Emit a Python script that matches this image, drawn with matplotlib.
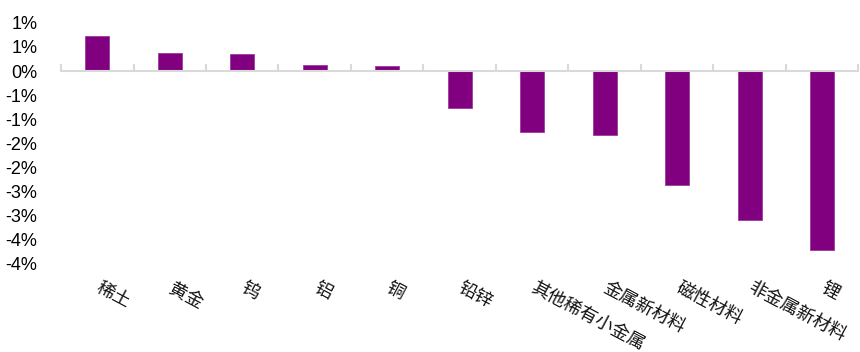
import numpy as np
import matplotlib.pyplot as plt
import matplotlib.transforms as mtransforms

plt.rcParams['font.family'] = ['Noto Sans CJK SC', 'DejaVu Sans']

# data (percent)
categories = ['稀土', '黄金', '钨', '铝', '铜', '铅锌', '其他稀有小金属',
              '金属新材料', '磁性材料', '非金属新材料', '锂']
values = [0.72, 0.37, 0.36, 0.12, 0.11, -0.77, -1.27, -1.32, -2.37, -3.08, -3.72]
yticks = [1.0, 0.5, 0.0, -0.5, -1.0, -1.5, -2.0, -2.5, -3.0, -3.5, -4.0]
ytick_labels = ['1%', '1%', '0%', '-1%', '-1%', '-2%', '-2%', '-3%', '-3%', '-4%', '-4%']

fig = plt.figure(figsize=(8.6, 3.52), dpi=100)
ax = fig.add_axes([0.071, 0.25, 0.927, 0.685])

x = np.arange(len(categories))
ax.bar(x, values, width=0.33, color='#800080', edgecolor='#9a3a9a', linewidth=0.6, zorder=2)

ax.set_xlim(-0.5, len(categories) - 0.5)
ax.set_ylim(-4.0, 1.0)

# y axis: labels only
ax.set_yticks(yticks)
ax.set_yticklabels(ytick_labels, family=['Liberation Sans', 'DejaVu Sans'], fontsize=13)
ax.tick_params(axis='y', length=0, pad=17)

# x axis line at zero, small ticks between categories
for s in ['top', 'right', 'left']:
    ax.spines[s].set_visible(False)
ax.spines['bottom'].set_position(('data', 0))
ax.spines['bottom'].set_color('#d9d9d9')
ax.spines['bottom'].set_linewidth(1.5)
ax.set_xticks(x)
ax.set_xticklabels([])
ax.tick_params(axis='x', which='major', length=0)
ax.set_xticks(np.arange(-0.5, len(categories)), minor=True)
ax.tick_params(axis='x', which='minor', direction='in', length=5, width=1.5, color='#d9d9d9')

# rotated category labels below the plot
trans = mtransforms.blended_transform_factory(ax.transData, ax.transAxes)
for xi, name in zip(x, categories):
    ax.text(xi + 0.06, -0.062, name, transform=trans, rotation=-28, rotation_mode='anchor',
            ha='left', va='top', fontsize=13, color='#111111')

fig.savefig('out.png', dpi=100)
